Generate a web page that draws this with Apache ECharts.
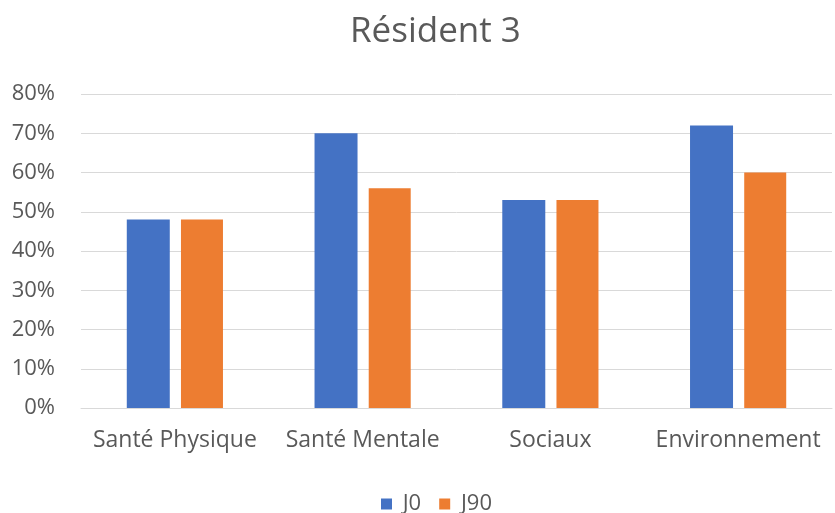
<!DOCTYPE html>
<html>
<head>
<meta charset="utf-8">
<style>
  html, body { margin: 0; padding: 0; background: #fff; }
  #chart { width: 835px; height: 513px; }
</style>
<script src="https://cdn.jsdelivr.net/npm/echarts@6/dist/echarts.min.js"></script>
</head>
<body>
<div id="chart"></div>
<script>
// Quality-of-life domain scores for resident 3, at day 0 and day 90
const categories = ['Santé Physique', 'Santé Mentale', 'Sociaux', 'Environnement'];
const seriesNames = ['J0', 'J90'];
const j0Values = [48, 70, 53, 72];
const j90Values = [48, 56, 53, 60];
const yTicks = { min: 0, max: 80, interval: 10 };

const textColor = '#595959';
const fontFamily = '"Open Sans", "Noto Sans", sans-serif';

const chart = echarts.init(document.getElementById('chart'));
chart.setOption({
  animation: false,
  title: {
    text: 'Résident 3',
    left: 345,
    top: 10,
    textStyle: { color: textColor, fontFamily, fontSize: 35, fontWeight: 'normal' }
  },
  legend: {
    data: seriesNames,
    top: 487,
    left: 376,
    itemWidth: 11,
    itemHeight: 11,
    itemGap: 18,
    icon: 'rect',
    formatter: name => ' ' + name,
    textStyle: { color: textColor, fontFamily, fontSize: 22, lineHeight: 24 }
  },
  grid: { left: 81, right: 3, top: 94, bottom: 105, containLabel: false },
  xAxis: {
    type: 'category',
    data: categories,
    axisLine: { lineStyle: { color: '#d9d9d9', width: 1 } },
    axisTick: { show: false },
    axisLabel: { color: textColor, fontFamily, fontSize: 23, margin: 21, interval: 0 }
  },
  yAxis: {
    type: 'value',
    min: yTicks.min,
    max: yTicks.max,
    interval: yTicks.interval,
    axisLine: { show: false },
    axisTick: { show: false },
    splitLine: { lineStyle: { color: '#d9d9d9', width: 1 } },
    axisLabel: { color: textColor, fontFamily, fontSize: 22, margin: 26, formatter: '{value}%' }
  },
  series: [
    { name: seriesNames[0], type: 'bar', data: j0Values, barWidth: 43, barGap: '26%',
      itemStyle: { color: '#4472C4' } },
    { name: seriesNames[1], type: 'bar', data: j90Values, barWidth: 42,
      itemStyle: { color: '#ED7D31' } }
  ]
});
</script>
</body>
</html>
